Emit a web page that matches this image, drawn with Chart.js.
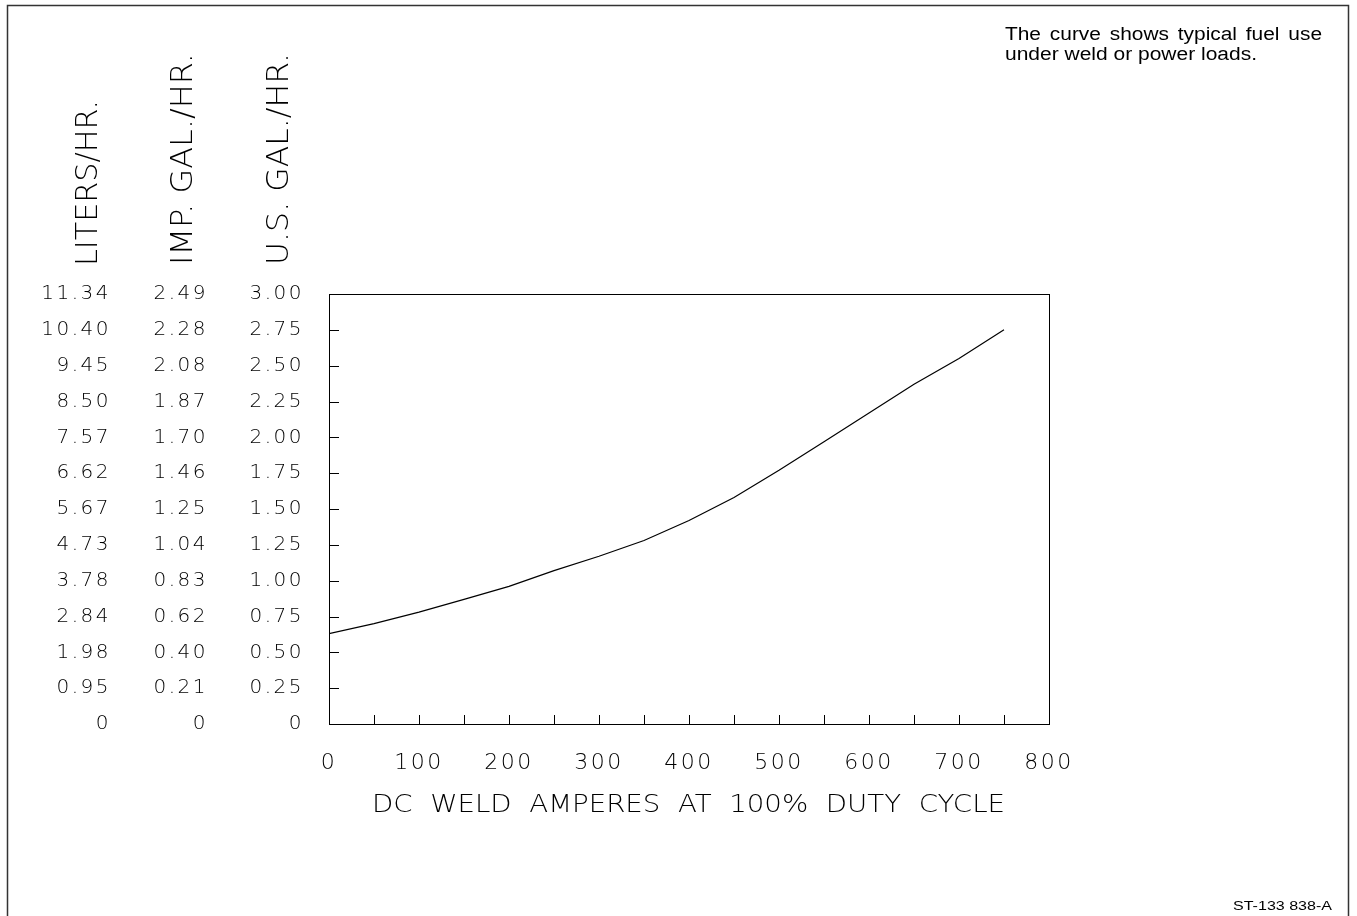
<!DOCTYPE html>
<html><head><meta charset="utf-8">
<script src="https://cdn.jsdelivr.net/npm/chart.js@4"></script>
<style>html,body{margin:0;padding:0;background:#fff;}canvas{display:block;}</style>
</head><body>
<canvas id="c" width="1357" height="916"></canvas>
<script>
// ---- data ----
const amps = [0, 50, 100, 150, 200, 250, 300, 350, 400, 450, 500, 550, 600, 650, 700, 750];
const usGalPerHr = [0.63, 0.70, 0.78, 0.87, 0.96, 1.07, 1.17, 1.28, 1.42, 1.58, 1.77, 1.97, 2.17, 2.37, 2.55, 2.75];
const usTickValues = [0, 0.25, 0.5, 0.75, 1.0, 1.25, 1.5, 1.75, 2.0, 2.25, 2.5, 2.75, 3.0];
const usLabels = ['0', '0.25', '0.50', '0.75', '1.00', '1.25', '1.50', '1.75', '2.00', '2.25', '2.50', '2.75', '3.00'];
const impLabels = ['0', '0.21', '0.40', '0.62', '0.83', '1.04', '1.25', '1.46', '1.70', '1.87', '2.08', '2.28', '2.49'];
const literLabels = ['0', '0.95', '1.98', '2.84', '3.78', '4.73', '5.67', '6.62', '7.57', '8.50', '9.45', '10.40', '11.34'];
const xTickValues = [0, 50, 100, 150, 200, 250, 300, 350, 400, 450, 500, 550, 600, 650, 700, 750, 800];
const xTickLabels = ['0', '100', '200', '300', '400', '500', '600', '700', '800'];
const colTitles = ['LITERS/HR.', 'IMP. GAL./HR.', 'U.S. GAL./HR.'];
const xTitle = 'DC  WELD  AMPERES  AT  100%  DUTY  CYCLE';
const noteLines = ['The curve shows typical fuel use', 'under weld or power loads.'];
const footer = 'ST-133 838-A';

const FAM = '"DejaVu Sans", "Liberation Sans", sans-serif';
const ARIAL = '"Liberation Sans", Arial, sans-serif';
const tickFont = {family: FAM, size: 20, weight: 200};

function fitText(ctx, text, x, y, w, font, rot) {
  ctx.save();
  ctx.font = font;
  const m = ctx.measureText(text).width;
  ctx.translate(x, y);
  if (rot) ctx.rotate(rot);
  ctx.scale(w / m, 1);
  ctx.textAlign = 'left';
  ctx.textBaseline = 'alphabetic';
  ctx.fillText(text, 0, 0);
  ctx.restore();
}
function justify(ctx, text, x, y, w, sx) {
  ctx.save();
  ctx.translate(x, y);
  ctx.scale(sx, 1);
  const W = w / sx;
  const words = text.split(' ');
  let tot = 0; words.forEach(s => tot += ctx.measureText(s).width);
  const gap = (W - tot) / (words.length - 1);
  let cx = 0;
  words.forEach(s => { ctx.fillText(s, cx, 0); cx += ctx.measureText(s).width + gap; });
  ctx.restore();
}

const decor = {
  id: 'decor',
  beforeDraw(chart) {
    // wide plotter-style lettering for the axis numbers
    chart.ctx.letterSpacing = '2.5px';
  },
  afterDraw(chart) {
    const ctx = chart.ctx, a = chart.chartArea;
    ctx.letterSpacing = '0px';
    const xs = chart.scales.x, ys = chart.scales.y;
    ctx.save();
    // outer frame
    ctx.strokeStyle = '#333'; ctx.lineWidth = 1.5;
    ctx.beginPath();
    ctx.moveTo(7.5, 916); ctx.lineTo(7.5, 5.5); ctx.lineTo(1348.5, 5.5); ctx.lineTo(1348.5, 916);
    ctx.stroke();
    // plot box
    ctx.strokeStyle = '#000'; ctx.lineWidth = 1;
    ctx.strokeRect(Math.round(a.left) + 0.5, Math.round(a.top) + 0.5, Math.round(a.right - a.left), Math.round(a.bottom - a.top));
    // inward ticks
    ctx.beginPath();
    xs.ticks.forEach(t => {
      if (t.value <= 0 || t.value >= 800) return;
      const px = Math.round(xs.getPixelForValue(t.value)) + 0.5;
      ctx.moveTo(px, a.bottom); ctx.lineTo(px, a.bottom - 9);
    });
    ys.ticks.forEach(t => {
      if (t.value <= 0 || t.value >= 3) return;
      const py = Math.round(ys.getPixelForValue(t.value)) + 0.5;
      ctx.moveTo(a.left, py); ctx.lineTo(a.left + 10, py);
    });
    ctx.stroke();
    // column titles (rotated)
    ctx.fillStyle = '#000';
    const tf = '200 30px ' + FAM;
    fitText(ctx, colTitles[0], 97, 266, 166, tf, -Math.PI / 2);
    fitText(ctx, colTitles[1], 192, 265, 212, tf, -Math.PI / 2);
    fitText(ctx, colTitles[2], 288, 265, 212, tf, -Math.PI / 2);
    // x title
    fitText(ctx, xTitle, 372, 812, 633, '200 24px ' + FAM);
    // note
    ctx.font = '18px ' + ARIAL;
    ctx.textBaseline = 'alphabetic'; ctx.textAlign = 'left';
    justify(ctx, noteLines[0], 1005, 40, 317, 1.16);
    fitText(ctx, noteLines[1], 1005, 60, 252, '18px ' + ARIAL);
    fitText(ctx, footer, 1233, 910, 99, '13px ' + ARIAL);
    ctx.restore();
  }
};

function setYTicks(scale) { scale.ticks = usTickValues.map(v => ({value: v})); }
function yAxis(labels, width, pad, weight) {
  return {
    type: 'linear', position: 'left', min: 0, max: 3, weight: weight,
    afterBuildTicks: setYTicks,
    afterFit(s) { s.width = width; },
    grid: {display: false, drawTicks: false},
    border: {display: false},
    ticks: {padding: pad, color: '#000', font: tickFont, callback: (v, i) => labels[i]}
  };
}

new Chart(document.getElementById('c'), {
  type: 'line',
  data: {
    datasets: [{
      data: amps.map((x, i) => ({x: x, y: usGalPerHr[i]})),
      borderColor: '#000', borderWidth: 1.2, pointRadius: 0, tension: 0, fill: false
    }]
  },
  options: {
    responsive: false, devicePixelRatio: 1, animation: false,
    layout: {padding: {left: 20, top: 294, right: 308, bottom: 92}},
    plugins: {legend: {display: false}, tooltip: {enabled: false}},
    scales: {
      x: {
        type: 'linear', min: 0, max: 800,
        afterBuildTicks(s) { s.ticks = xTickValues.map(v => ({value: v})); },
        afterFit(s) { s.height = 100; },
        grid: {display: false, drawTicks: false},
        border: {display: false},
        ticks: {autoSkip: false, maxRotation: 0, padding: 26, color: '#000', font: {family: FAM, size: 22, weight: 200},
          callback: (v, i) => (i % 2 === 0 ? xTickLabels[i / 2] : '')}
      },
      y: yAxis(usLabels, 123, 25, 0),
      y2: yAxis(impLabels, 97, -2, 1),
      y3: yAxis(literLabels, 89, -2, 2)
    }
  },
  plugins: [decor]
});
</script>
</body></html>
